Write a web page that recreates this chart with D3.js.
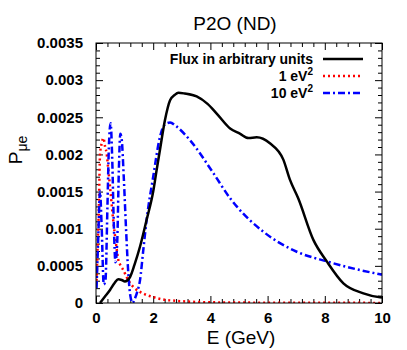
<!DOCTYPE html>
<html>
<head>
<meta charset="utf-8">
<script src="https://cdn.jsdelivr.net/npm/d3@7"></script>
<style>
  body { margin: 0; background: #fff; }
  text { font-family: "Liberation Sans", Arial, Helvetica, sans-serif; }
</style>
</head>
<body>
<script>
const width = 407;
const height = 350;
const margin = { top: 43, right: 25, bottom: 47, left: 96 };

// Flux in arbitrary units
const fluxE = [0.14, 0.3, 0.49, 0.65, 0.78, 0.9, 1.01, 1.19, 1.35, 1.54, 1.77, 2.0, 2.12, 2.24, 2.41, 2.59, 2.75, 2.88, 3.1, 3.52, 3.9, 4.22, 4.69, 5.03, 5.33, 5.62, 6.08, 6.55, 6.78, 7.07, 7.6, 8.07, 8.65, 9.35, 9.93, 10];
const fluxP = [0, 0.00008, 0.000175, 0.00027, 0.00032, 0.00031, 0.00029, 0.00035, 0.00052, 0.00076, 0.00112, 0.0015, 0.00179, 0.00207, 0.00246, 0.00273, 0.0028, 0.00283, 0.00282, 0.00278, 0.00268, 0.00255, 0.00235, 0.00228, 0.00222, 0.00223, 0.00215, 0.00193, 0.00166, 0.00141, 0.00085, 0.00056, 0.000265, 0.00013, 0.000077, 0.000075];

// 1 eV^2
const redE = [0.02, 0.06, 0.1, 0.14, 0.2, 0.26, 0.32, 0.37, 0.43, 0.49, 0.6, 0.7, 0.78, 0.87, 0.96, 1.07, 1.19, 1.35, 1.54, 1.75, 1.96, 2.3, 2.77, 3.3, 3.9, 5, 6, 7, 8, 9, 10];
const redP = [0.0003, 0.0008, 0.0013, 0.002, 0.00215, 0.00222, 0.0021, 0.00202, 0.0018, 0.00157, 0.00112, 0.0008, 0.00058, 0.0005, 0.00044, 0.00035, 0.00027, 0.0002, 0.00015, 0.00011, 0.000085, 0.00005, 0.00003, 0.000018, 0.00001, 0.000006, 0.000004, 0.000003, 0.000002, 0.000002, 0.000001];

// 10 eV^2
const blueE = [0.02, 0.08, 0.14, 0.2, 0.27, 0.33, 0.4, 0.45, 0.51, 0.57, 0.62, 0.68, 0.74, 0.8, 0.85, 0.9, 0.97, 1.05, 1.13, 1.2, 1.28, 1.36, 1.45, 1.54, 1.65, 1.77, 2.0, 2.24, 2.4, 2.59, 2.8, 3.29, 4.1, 4.69, 4.92, 5.85, 7.02, 8.07, 9.12, 9.93, 10];
const blueP = [0.0002, 0.0009, 0.0015, 0.001, 0.00025, 0.0003, 0.0013, 0.0021, 0.00242, 0.0019, 0.0011, 0.00055, 0.0008, 0.0018, 0.00228, 0.0022, 0.0017, 0.001, 0.0004, 0.0001, 0, 0.00006, 0.00016, 0.00031, 0.0007, 0.00112, 0.0017, 0.00224, 0.0024, 0.00243, 0.00238, 0.00219, 0.00175, 0.00141, 0.0013, 0.00096, 0.00069, 0.00056, 0.000453, 0.000386, 0.00038];

const xTicks = [0, 2, 4, 6, 8, 10];
const yTicks = [0, 0.0005, 0.001, 0.0015, 0.002, 0.0025, 0.003, 0.0035];
const yTickLabels = ['0', '0.0005', '0.001', '0.0015', '0.002', '0.0025', '0.003', '0.0035'];

const svg = d3.select('body')
  .append('svg')
  .attr('width', width)
  .attr('height', height);

const x = d3.scaleLinear().domain([0, 10]).range([margin.left, width - margin.right]);
const y = d3.scaleLinear().domain([0, 0.0035]).range([height - margin.bottom, margin.top]);

svg.append('defs').append('clipPath')
  .attr('id', 'plotClip')
  .append('rect')
  .attr('x', x(0)).attr('y', y(0.0035))
  .attr('width', x(10) - x(0)).attr('height', y(0) - y(0.0035));

const xMinor = d3.range(0, 10.001, 0.4).filter(v => Math.abs(v / 2 - Math.round(v / 2)) > 1e-6);
const yMinor = d3.range(0, 0.00351, 0.0001).filter(v => Math.abs(v / 0.0005 - Math.round(v / 0.0005)) > 1e-6);

const styleAxis = g => {
  g.select('.domain').remove();
  g.selectAll('line').attr('stroke', '#000').attr('stroke-width', 1);
  g.selectAll('text').attr('font-size', 15).attr('font-weight', 'bold').attr('fill', '#000');
};

// major ticks with labels
svg.append('g')
  .attr('transform', `translate(0,${y(0)})`)
  .call(d3.axisBottom(x).tickValues(xTicks).tickSize(-7).tickPadding(9).tickFormat(d => d))
  .call(styleAxis);
svg.append('g')
  .attr('transform', `translate(${x(0)},0)`)
  .call(d3.axisLeft(y).tickValues(yTicks).tickSize(-7).tickPadding(13).tickFormat((d, i) => yTickLabels[i]))
  .call(styleAxis);
svg.append('g')
  .attr('transform', `translate(0,${y(0.0035)})`)
  .call(d3.axisTop(x).tickValues(xTicks).tickSize(-7).tickFormat(''))
  .call(styleAxis);
svg.append('g')
  .attr('transform', `translate(${x(10)},0)`)
  .call(d3.axisRight(y).tickValues(yTicks).tickSize(-7).tickFormat(''))
  .call(styleAxis);

// minor ticks
svg.append('g')
  .attr('transform', `translate(0,${y(0)})`)
  .call(d3.axisBottom(x).tickValues(xMinor).tickSize(-4).tickFormat(''))
  .call(styleAxis);
svg.append('g')
  .attr('transform', `translate(0,${y(0.0035)})`)
  .call(d3.axisTop(x).tickValues(xMinor).tickSize(-4).tickFormat(''))
  .call(styleAxis);
svg.append('g')
  .attr('transform', `translate(${x(0)},0)`)
  .call(d3.axisLeft(y).tickValues(yMinor).tickSize(-4).tickFormat(''))
  .call(styleAxis);
svg.append('g')
  .attr('transform', `translate(${x(10)},0)`)
  .call(d3.axisRight(y).tickValues(yMinor).tickSize(-4).tickFormat(''))
  .call(styleAxis);

// curves
const line = d3.line()
  .x(d => x(d[0]))
  .y(d => y(d[1]))
  .curve(d3.curveMonotoneX);

const plot = svg.append('g').attr('clip-path', 'url(#plotClip)');

plot.append('path')
  .datum(redE.map((e, i) => [e, redP[i]]))
  .attr('d', line)
  .attr('fill', 'none')
  .attr('stroke', '#ff0000')
  .attr('stroke-width', 2.5)
  .attr('stroke-dasharray', '2,3');

plot.append('path')
  .datum(blueE.map((e, i) => [e, blueP[i]]))
  .attr('d', line)
  .attr('fill', 'none')
  .attr('stroke', '#0000ff')
  .attr('stroke-width', 2.5)
  .attr('stroke-dasharray', '7,3,2,3');

plot.append('path')
  .datum(fluxE.map((e, i) => [e, fluxP[i]]))
  .attr('d', line)
  .attr('fill', 'none')
  .attr('stroke', '#000')
  .attr('stroke-width', 2.5);

// frame
svg.append('rect')
  .attr('x', x(0)).attr('y', y(0.0035))
  .attr('width', x(10) - x(0)).attr('height', y(0) - y(0.0035))
  .attr('fill', 'none')
  .attr('stroke', '#000')
  .attr('stroke-width', 1);

// legend
const legend = [
  { label: 'Flux in arbitrary units', sup: '', color: '#000', dash: null },
  { label: '1 eV', sup: '2', color: '#ff0000', dash: '2,3' },
  { label: '10 eV', sup: '2', color: '#0000ff', dash: '7,3,2,3' }
];
const lg = svg.append('g');
legend.forEach((d, i) => {
  const ly = 59 + i * 17;
  const t = lg.append('text')
    .attr('x', 313).attr('y', ly + 5)
    .attr('text-anchor', 'end')
    .attr('font-size', 14)
    .attr('font-weight', 'bold')
    .text(d.label);
  if (d.sup) {
    t.append('tspan').attr('dy', -6).attr('font-size', 10).text(d.sup);
  }
  lg.append('line')
    .attr('x1', 323).attr('x2', 363)
    .attr('y1', ly).attr('y2', ly)
    .attr('stroke', d.color)
    .attr('stroke-width', 2.5)
    .attr('stroke-dasharray', d.dash);
});

// titles
svg.append('text')
  .attr('x', 235).attr('y', 30)
  .attr('text-anchor', 'middle')
  .attr('font-size', 19)
  .text('P2O (ND)');

svg.append('text')
  .attr('x', 241).attr('y', 344)
  .attr('text-anchor', 'middle')
  .attr('font-size', 19)
  .text('E (GeV)');

const yt = svg.append('text')
  .attr('transform', 'translate(22,150) rotate(-90)')
  .attr('text-anchor', 'middle')
  .attr('font-size', 19)
  .text('P');
yt.append('tspan').attr('dy', 5).attr('font-size', 14).text('μe');
</script>
</body>
</html>
